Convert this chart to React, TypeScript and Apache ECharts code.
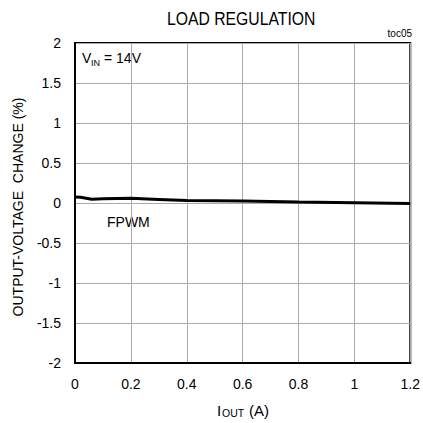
import React, { useEffect, useRef } from "react";
import * as echarts from "echarts";

const currentA = [0, 0.02, 0.04, 0.06, 0.1, 0.2, 0.3, 0.4, 0.6, 0.8, 1.0, 1.2];
const changePct = [0.075, 0.072, 0.06, 0.048, 0.052, 0.058, 0.045, 0.03, 0.025, 0.013, 0.004, -0.005];
const xTicks = { min: 0, max: 1.2, step: 0.2 };
const yTicks = { min: -2, max: 2, step: 0.5 };

const FONT = "'Liberation Sans', Arial, sans-serif";

export default function App() {
  const ref = useRef<HTMLDivElement>(null);
  useEffect(() => {
    if (!ref.current) return;
    const chart = echarts.init(ref.current, null, { renderer: "svg" });
    const data = currentA.map((x, i) => [x, changePct[i]]);
    chart.setOption({
      animation: false,
      backgroundColor: "#ffffff",
      textStyle: { fontFamily: FONT },
      grid: {
        left: 75,
        top: 43,
        width: 337,
        height: 320,
        show: true,
        borderColor: "#000",
        borderWidth: 2,
        backgroundColor: "transparent",
      },
      xAxis: {
        type: "value",
        min: xTicks.min,
        max: xTicks.max,
        interval: xTicks.step,
        axisLine: { show: true, onZero: false, lineStyle: { color: "#000", width: 2 } },
        axisTick: { show: false },
        axisLabel: { color: "#000", fontSize: 14, margin: 14, fontFamily: FONT },
        splitLine: { show: true, lineStyle: { color: "#aaa", width: 1 } },
      },
      yAxis: {
        type: "value",
        min: yTicks.min,
        max: yTicks.max,
        interval: yTicks.step,
        axisLine: { show: true, onZero: false, lineStyle: { color: "#000", width: 2 } },
        axisTick: { show: false },
        axisLabel: { color: "#000", fontSize: 14, margin: 14, fontFamily: FONT },
        splitLine: { show: true, lineStyle: { color: "#aaa", width: 1 } },
      },
      series: [
        {
          type: "line",
          data,
          symbol: "none",
          lineStyle: { color: "#000", width: 3 },
          z: 5,
        },
      ],
      graphic: [
        {
          type: "text",
          x: 167,
          y: 10,
          scaleX: 0.875,
          style: { text: "LOAD REGULATION", fontSize: 18, fontFamily: FONT, fill: "#000" },
        },
        {
          type: "text",
          right: 11,
          top: 28,
          style: { text: "toc05", fontSize: 10, fontFamily: FONT, fill: "#000" },
        },
        {
          type: "text",
          x: 82,
          y: 51,
          style: { text: "V", fontSize: 14, fontFamily: FONT, fill: "#000" },
        },
        {
          type: "text",
          x: 91,
          y: 58,
          style: { text: "IN", fontSize: 9, fontFamily: FONT, fill: "#000" },
        },
        {
          type: "text",
          x: 104,
          y: 51,
          style: { text: "= 14V", fontSize: 14, fontFamily: FONT, fill: "#000" },
        },
        {
          type: "text",
          x: 107,
          y: 215,
          style: { text: "FPWM", fontSize: 14, fontFamily: FONT, fill: "#000" },
        },
        {
          type: "text",
          x: 217,
          y: 403,
          style: { text: "I", fontSize: 15, fontFamily: FONT, fill: "#000" },
        },
        {
          type: "text",
          x: 222,
          y: 407,
          style: { text: "OUT", fontSize: 10.5, fontFamily: FONT, fill: "#000" },
        },
        {
          type: "text",
          x: 249,
          y: 403,
          style: { text: "(A)", fontSize: 15, fontFamily: FONT, fill: "#000" },
        },
        {
          type: "text",
          x: 18,
          y: 207,
          rotation: Math.PI / 2,
          style: {
            text: "OUTPUT-VOLTAGE  CHANGE (%)",
            fontSize: 14,
            fontFamily: FONT,
            fill: "#000",
            align: "center",
            verticalAlign: "middle",
          },
        },
      ],
    });
    return () => chart.dispose();
  }, []);
  return <div ref={ref} style={{ width: 423, height: 423, position: "absolute", left: 0, top: 0 }} />;
}
